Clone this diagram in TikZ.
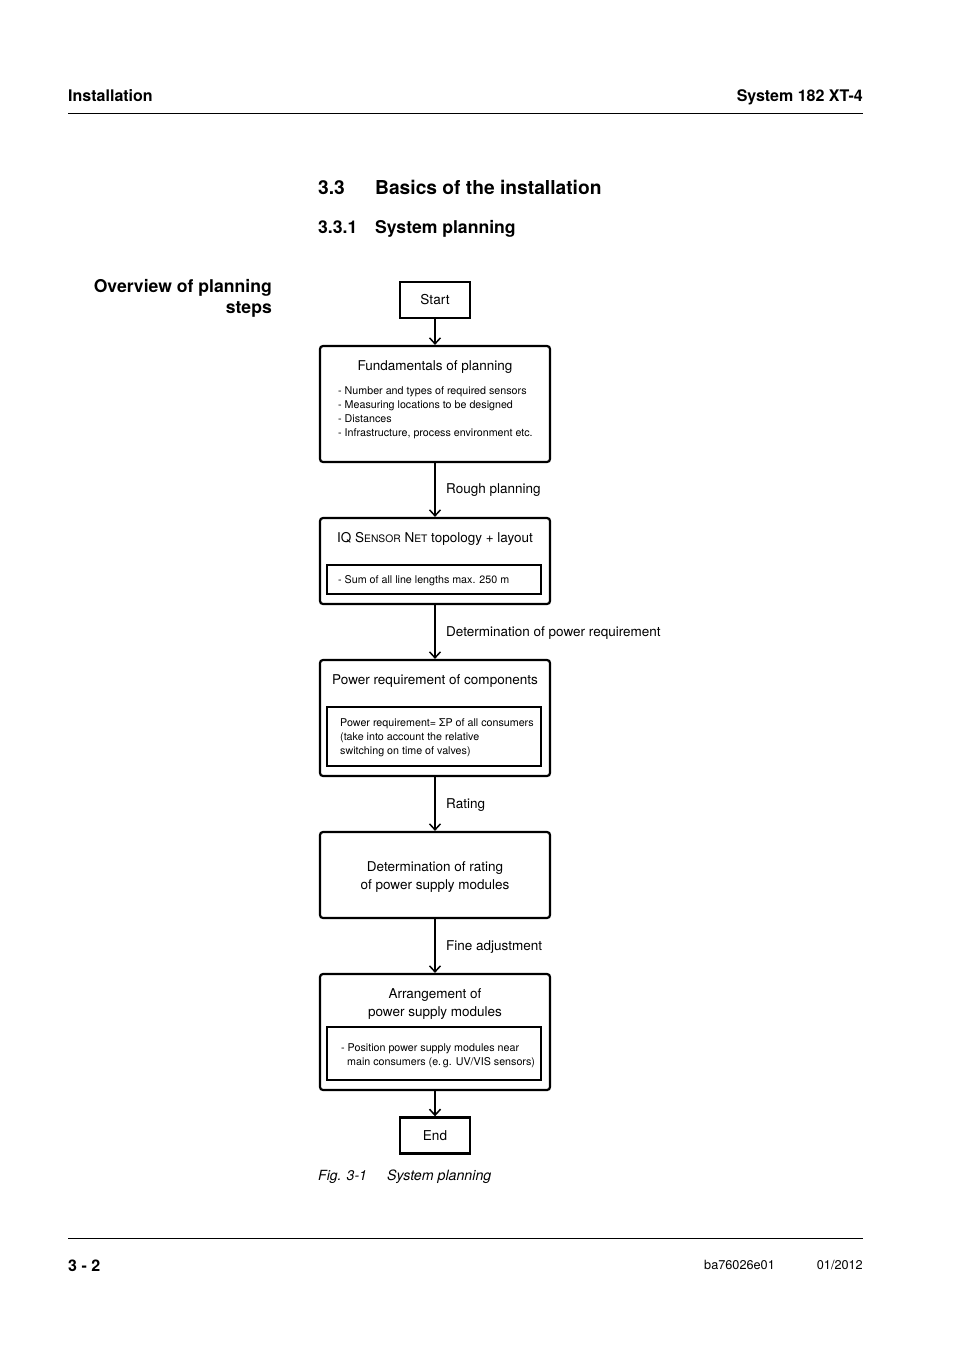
\documentclass[tikz,border=0pt]{standalone}
\usepackage{fontspec}
\setmainfont{TeX Gyre Heros}
\usetikzlibrary{arrows.meta}
\begin{document}
\begin{tikzpicture}[x=1pt,y=-1pt,
  outer/.style={draw,line width=2.2pt,rounded corners=3pt,minimum width=230pt,inner sep=0pt},
  term/.style={draw,line width=2.4pt,minimum width=70pt,minimum height=36pt,inner sep=0pt,font=\fontsize{13.6}{16}\selectfont},
  inner/.style={draw,line width=1.2pt,minimum width=214pt,inner sep=0pt},
  ttl/.style={font=\fontsize{13.5}{18}\selectfont,align=center,inner sep=0pt},
  small/.style={font=\fontsize{10.7}{14}\selectfont,align=left,inner sep=0pt,anchor=west},
  lbl/.style={font=\fontsize{13.5}{16}\selectfont,anchor=west,inner sep=0pt},
  arr/.style={line width=1.5pt,-{Straight Barb[length=6pt,width=11pt,line width=1.5pt]}},
  hdr/.style={font=\bfseries\fontsize{16}{18}\selectfont,inner sep=0pt},
  rule/.style={line width=1pt}]
\useasboundingbox (0,0) rectangle (954,1350);
% header
\node[hdr,anchor=base west] (h1) at (68,101) {Installation};
\node[hdr,anchor=base east] (h2) at (863,101) {System 182 XT-4};
\coordinate (l1a) at (68,113); \coordinate (l1b) at (863,113);
\draw[rule] (l1a) -- (l1b);
% section titles
\node[font=\bfseries\fontsize{19.2}{20}\selectfont,anchor=base west,inner sep=0pt] (s1n) at (318,194) {3.3};
\node[font=\bfseries\fontsize{19.2}{20}\selectfont,anchor=base west,inner sep=0pt] (s1t) at (375,194) {Basics of the installation};
\node[font=\bfseries\fontsize{17.6}{18}\selectfont,anchor=base west,inner sep=0pt] (s2n) at (318,233) {3.3.1};
\node[font=\bfseries\fontsize{17.6}{18}\selectfont,anchor=base west,inner sep=0pt] (s2t) at (375,233) {System planning};
\node[font=\bfseries\fontsize{17.6}{21}\selectfont,align=right,anchor=north east,inner sep=0pt] (ov) at (272,279) {Overview of planning\\steps};
% flowchart boxes
\node[term] (start) at (435,300) {Start};
\node[outer,minimum height=116pt] (fund) at (435,404) {};
\node[ttl] (fundt) at (435,367) {Fundamentals of planning};
\node[small] (fundl) at (338,413) {- Number and types of required sensors\\- Measuring locations to be designed\\- Distances\\- Infrastructure, process environment etc.};
\node[outer,minimum height=86pt] (iq) at (435,561) {};
\node[ttl] (iqt) at (435,539) {IQ S{\fontsize{10.3}{12}\selectfont ENSOR} N{\fontsize{10.3}{12}\selectfont ET} topology + layout};
\node[inner,minimum height=29pt] (iqi) at (434,579.5) {};
\node[small] (iql) at (338,580.5) {- Sum of all line lengths max. 250 m};
\node[outer,minimum height=116pt] (pow) at (435,718) {};
\node[ttl] (powt) at (435,681) {Power requirement of components};
\node[inner,minimum height=59pt] (powi) at (434,736.5) {};
\node[small] (powl) at (340,737.5) {Power requirement= ΣP of all consumers\\(take into account the relative\\switching on time of valves)};
\node[outer,minimum height=86pt] (det) at (435,875) {};
\node[ttl] (dett) at (435,877) {Determination of rating\\of power supply modules};
\node[outer,minimum height=116pt] (arr) at (435,1032) {};
\node[ttl] (arrt) at (435,1004) {Arrangement of\\power supply modules};
\node[inner,minimum height=53pt] (arri) at (434,1053.5) {};
\node[small] (arrl) at (341,1055.5) {- Position power supply modules near\\\hspace*{6pt}main consumers (e.\,g. UV/VIS sensors)};
\node[term] (endn) at (435,1135.5) {End};
% connectors
\draw[arr] (start.south) -- (fund.north);
\draw[arr] (fund.south) -- (iq.north);
\draw[arr] (iq.south) -- (pow.north);
\draw[arr] (pow.south) -- (det.north);
\draw[arr] (det.south) -- (arr.north);
\draw[arr] (arr.south) -- (endn.north);
% connector labels
\node[lbl] (r1) at (446,490) {Rough planning};
\node[lbl] (r2) at (446,633) {Determination of power requirement};
\node[lbl] (r3) at (446,805) {Rating};
\node[lbl] (r4) at (446,947) {Fine adjustment};
% caption
\node[font=\itshape\fontsize{14}{16}\selectfont,anchor=base west,inner sep=0pt] (cap1) at (318,1180) {Fig. 3-1};
\node[font=\itshape\fontsize{14.2}{16}\selectfont,anchor=base west,inner sep=0pt] (cap2) at (387,1180) {System planning};
% footer
\coordinate (l2a) at (68,1238); \coordinate (l2b) at (863,1238);
\draw[rule] (l2a) -- (l2b);
\node[hdr,anchor=base west] (f1) at (68,1271) {3 - 2};
\node[font=\fontsize{12.7}{14}\selectfont,anchor=base west,inner sep=0pt] (f2) at (704,1269) {ba76026e01};
\node[font=\fontsize{12.7}{14}\selectfont,anchor=base east,inner sep=0pt] (f3) at (863,1269) {01/2012};
\end{tikzpicture}
\end{document}
